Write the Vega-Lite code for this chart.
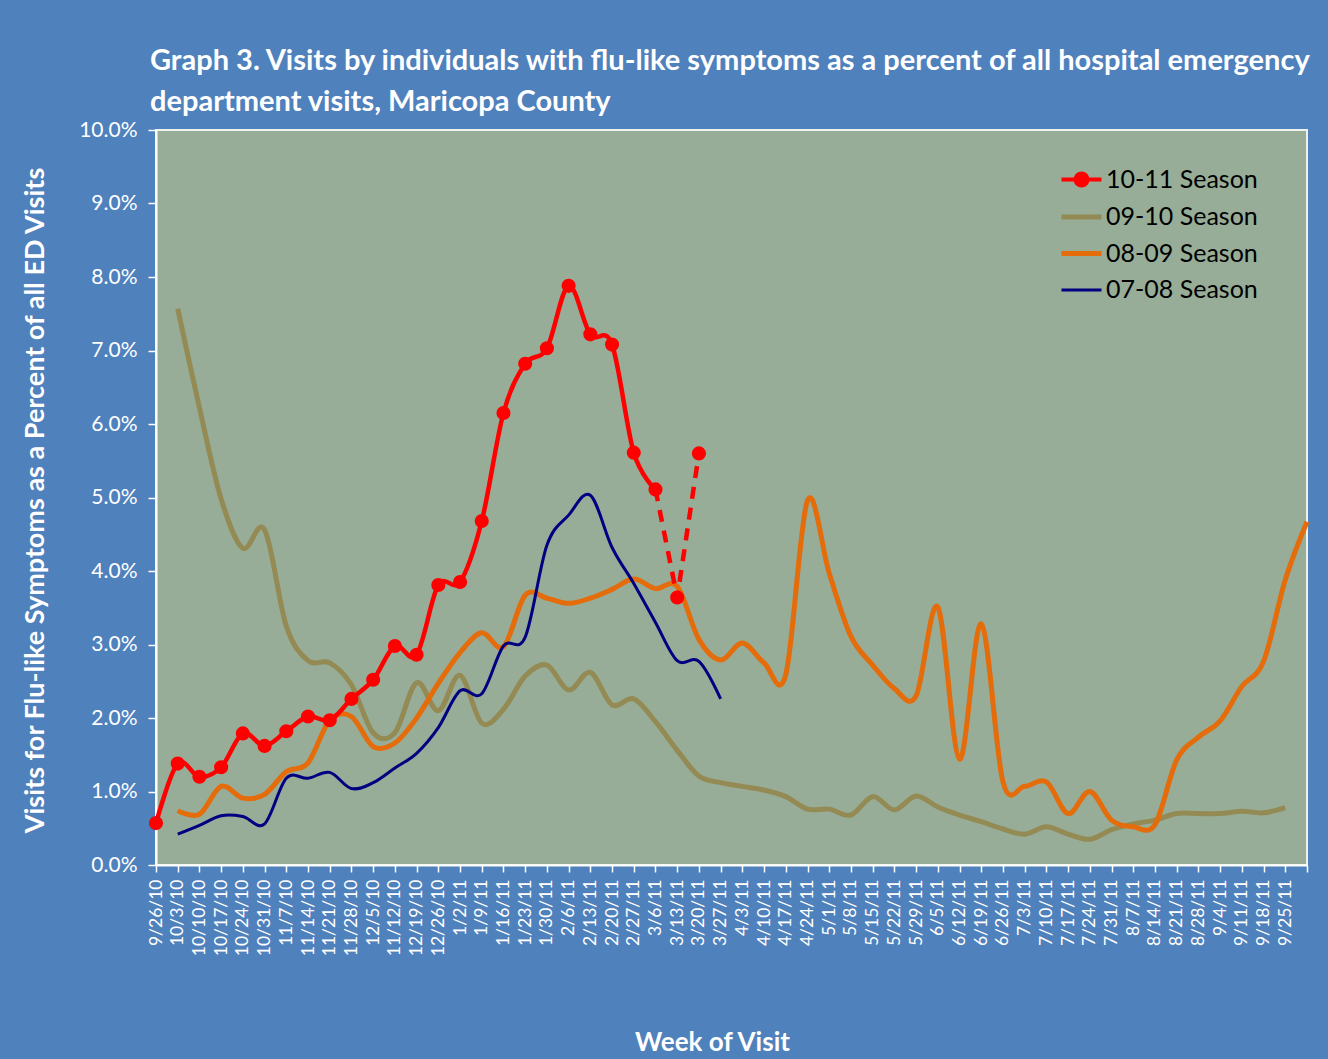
{
  "$schema": "https://vega.github.io/schema/vega-lite/v6.json",
  "width": 1151,
  "height": 735,
  "autosize": "none",
  "padding": {"left": 156, "top": 130, "right": 21, "bottom": 194},
  "background": "#4F81BD",
  "config": {
    "font": "Lato, sans-serif",
    "view": {"fill": "#97AD98", "stroke": "#EEF2EE", "strokeWidth": 2}
  },
  "title": {
    "text": ["Graph 3. Visits by individuals with flu-like symptoms as a percent of all hospital emergency", "department visits, Maricopa County"],
    "anchor": "start",
    "frame": "group",
    "dx": -6,
    "offset": 2,
    "fontSize": 29,
    "fontWeight": "bold",
    "color": "#FFFFFF",
    "lineHeight": 41
  },
  "datasets": {
    "red": [
      {"w": "9/26/10", "v": 0.57}, {"w": "10/3/10", "v": 1.38}, {"w": "10/10/10", "v": 1.20}, {"w": "10/17/10", "v": 1.33},
      {"w": "10/24/10", "v": 1.79}, {"w": "10/31/10", "v": 1.62}, {"w": "11/7/10", "v": 1.82}, {"w": "11/14/10", "v": 2.02},
      {"w": "11/21/10", "v": 1.97}, {"w": "11/28/10", "v": 2.26}, {"w": "12/5/10", "v": 2.52}, {"w": "11/12/10", "v": 2.98},
      {"w": "12/19/10", "v": 2.86}, {"w": "12/26/10", "v": 3.81}, {"w": "1/2/11", "v": 3.85}, {"w": "1/9/11", "v": 4.68},
      {"w": "1/16/11", "v": 6.15}, {"w": "1/23/11", "v": 6.82}, {"w": "1/30/11", "v": 7.03}, {"w": "2/6/11", "v": 7.88},
      {"w": "2/13/11", "v": 7.22}, {"w": "2/20/11", "v": 7.08}, {"w": "2/27/11", "v": 5.61}, {"w": "3/6/11", "v": 5.11},
      {"w": "3/13/11", "v": 3.64}, {"w": "3/20/11", "v": 5.60}
    ],
    "gold": [
      {"w": "10/3/10", "v": 7.57}, {"w": "10/10/10", "v": 6.22}, {"w": "10/17/10", "v": 4.98}, {"w": "10/24/10", "v": 4.31},
      {"w": "10/31/10", "v": 4.56}, {"w": "11/7/10", "v": 3.25}, {"w": "11/14/10", "v": 2.78}, {"w": "11/21/10", "v": 2.75},
      {"w": "11/28/10", "v": 2.45}, {"w": "12/5/10", "v": 1.80}, {"w": "11/12/10", "v": 1.80}, {"w": "12/19/10", "v": 2.48},
      {"w": "12/26/10", "v": 2.10}, {"w": "1/2/11", "v": 2.58}, {"w": "1/9/11", "v": 1.93}, {"w": "1/16/11", "v": 2.12},
      {"w": "1/23/11", "v": 2.57}, {"w": "1/30/11", "v": 2.72}, {"w": "2/6/11", "v": 2.38}, {"w": "2/13/11", "v": 2.62},
      {"w": "2/20/11", "v": 2.18}, {"w": "2/27/11", "v": 2.26}, {"w": "3/6/11", "v": 1.95}, {"w": "3/13/11", "v": 1.56},
      {"w": "3/20/11", "v": 1.21}, {"w": "3/27/11", "v": 1.12}, {"w": "4/3/11", "v": 1.07}, {"w": "4/10/11", "v": 1.02},
      {"w": "4/17/11", "v": 0.93}, {"w": "4/24/11", "v": 0.76}, {"w": "5/1/11", "v": 0.76}, {"w": "5/8/11", "v": 0.68},
      {"w": "5/15/11", "v": 0.93}, {"w": "5/22/11", "v": 0.75}, {"w": "5/29/11", "v": 0.94}, {"w": "6/5/11", "v": 0.79},
      {"w": "6/12/11", "v": 0.68}, {"w": "6/19/11", "v": 0.59}, {"w": "6/26/11", "v": 0.49}, {"w": "7/3/11", "v": 0.42},
      {"w": "7/10/11", "v": 0.52}, {"w": "7/17/11", "v": 0.42}, {"w": "7/24/11", "v": 0.35}, {"w": "7/31/11", "v": 0.48},
      {"w": "8/7/11", "v": 0.56}, {"w": "8/14/11", "v": 0.61}, {"w": "8/21/11", "v": 0.70}, {"w": "8/28/11", "v": 0.70},
      {"w": "9/4/11", "v": 0.70}, {"w": "9/11/11", "v": 0.73}, {"w": "9/18/11", "v": 0.71}, {"w": "9/25/11", "v": 0.78}
    ],
    "orange": [
      {"w": "10/3/10", "v": 0.74}, {"w": "10/10/10", "v": 0.69}, {"w": "10/17/10", "v": 1.07}, {"w": "10/24/10", "v": 0.91},
      {"w": "10/31/10", "v": 0.96}, {"w": "11/7/10", "v": 1.27}, {"w": "11/14/10", "v": 1.39}, {"w": "11/21/10", "v": 1.97},
      {"w": "11/28/10", "v": 2.02}, {"w": "12/5/10", "v": 1.61}, {"w": "11/12/10", "v": 1.66}, {"w": "12/19/10", "v": 2.00},
      {"w": "12/26/10", "v": 2.47}, {"w": "1/2/11", "v": 2.89}, {"w": "1/9/11", "v": 3.16}, {"w": "1/16/11", "v": 2.97},
      {"w": "1/23/11", "v": 3.67}, {"w": "1/30/11", "v": 3.63}, {"w": "2/6/11", "v": 3.56}, {"w": "2/13/11", "v": 3.63},
      {"w": "2/20/11", "v": 3.75}, {"w": "2/27/11", "v": 3.89}, {"w": "3/6/11", "v": 3.76}, {"w": "3/13/11", "v": 3.79},
      {"w": "3/20/11", "v": 3.07}, {"w": "3/27/11", "v": 2.79}, {"w": "4/3/11", "v": 3.02}, {"w": "4/10/11", "v": 2.75},
      {"w": "4/17/11", "v": 2.59}, {"w": "4/24/11", "v": 4.96}, {"w": "5/1/11", "v": 3.97}, {"w": "5/8/11", "v": 3.11},
      {"w": "5/15/11", "v": 2.72}, {"w": "5/22/11", "v": 2.40}, {"w": "5/29/11", "v": 2.30}, {"w": "6/5/11", "v": 3.51},
      {"w": "6/12/11", "v": 1.44}, {"w": "6/19/11", "v": 3.28}, {"w": "6/26/11", "v": 1.13}, {"w": "7/3/11", "v": 1.07},
      {"w": "7/10/11", "v": 1.13}, {"w": "7/17/11", "v": 0.70}, {"w": "7/24/11", "v": 1.00}, {"w": "7/31/11", "v": 0.61},
      {"w": "8/7/11", "v": 0.52}, {"w": "8/14/11", "v": 0.55}, {"w": "8/21/11", "v": 1.43}, {"w": "8/28/11", "v": 1.74},
      {"w": "9/4/11", "v": 1.96}, {"w": "9/11/11", "v": 2.43}, {"w": "9/18/11", "v": 2.77}, {"w": "9/25/11", "v": 3.88},
      {"w": "10/2/11", "v": 4.67}
    ],
    "navy": [
      {"w": "10/3/10", "v": 0.42}, {"w": "10/10/10", "v": 0.54}, {"w": "10/17/10", "v": 0.67}, {"w": "10/24/10", "v": 0.66},
      {"w": "10/31/10", "v": 0.56}, {"w": "11/7/10", "v": 1.18}, {"w": "11/14/10", "v": 1.18}, {"w": "11/21/10", "v": 1.26},
      {"w": "11/28/10", "v": 1.04}, {"w": "12/5/10", "v": 1.12}, {"w": "11/12/10", "v": 1.32}, {"w": "12/19/10", "v": 1.52},
      {"w": "12/26/10", "v": 1.87}, {"w": "1/2/11", "v": 2.37}, {"w": "1/9/11", "v": 2.33}, {"w": "1/16/11", "v": 2.98},
      {"w": "1/23/11", "v": 3.10}, {"w": "1/30/11", "v": 4.35}, {"w": "2/6/11", "v": 4.76}, {"w": "2/13/11", "v": 5.03},
      {"w": "2/20/11", "v": 4.32}, {"w": "2/27/11", "v": 3.83}, {"w": "3/6/11", "v": 3.30}, {"w": "3/13/11", "v": 2.78},
      {"w": "3/20/11", "v": 2.77}, {"w": "3/27/11", "v": 2.26}
    ]
  },
  "encoding": {
    "x": {
      "field": "w",
      "type": "ordinal",
      "scale": {
        "type": "point",
        "padding": 0,
        "domain": ["9/26/10","10/3/10","10/10/10","10/17/10","10/24/10","10/31/10","11/7/10","11/14/10","11/21/10","11/28/10","12/5/10","11/12/10","12/19/10","12/26/10","1/2/11","1/9/11","1/16/11","1/23/11","1/30/11","2/6/11","2/13/11","2/20/11","2/27/11","3/6/11","3/13/11","3/20/11","3/27/11","4/3/11","4/10/11","4/17/11","4/24/11","5/1/11","5/8/11","5/15/11","5/22/11","5/29/11","6/5/11","6/12/11","6/19/11","6/26/11","7/3/11","7/10/11","7/17/11","7/24/11","7/31/11","8/7/11","8/14/11","8/21/11","8/28/11","9/4/11","9/11/11","9/18/11","9/25/11","10/2/11"]
      },
      "axis": {
        "title": "Week of Visit",
        "titleFontSize": 26,
        "titleFontWeight": "bold",
        "titleColor": "#FFFFFF",
        "titleX": 556,
        "titleY": 177,
        "titleAlign": "center",
        "titleBaseline": "middle",
        "labelAngle": 270,
        "labelFontSize": 17.5,
        "labelColor": "#FFFFFF",
        "labelPadding": 7,
        "labelOverlap": false,
        "labelBound": false,
        "labelExpr": "datum.value === '10/2/11' ? '' : datum.value",
        "tickColor": "#FFFFFF",
        "tickSize": 7,
        "tickWidth": 1.5,
        "domainColor": "#FFFFFF",
        "domainWidth": 2
      }
    },
    "y": {
      "field": "v",
      "type": "quantitative",
      "scale": {"domain": [0, 10], "nice": false},
      "axis": {
        "title": "Visits for Flu-like Symptoms as a Percent of all ED Visits",
        "titleFontSize": 27,
        "titleFontWeight": "bold",
        "titleColor": "#FFFFFF",
        "titleX": -121,
        "titleY": 370,
        "titleAngle": 270,
        "titleAlign": "center",
        "titleBaseline": "middle",
        "values": [0, 1, 2, 3, 4, 5, 6, 7, 8, 9, 10],
        "labelExpr": "format(datum.value, '.1f') + '%'",
        "labelFontSize": 21,
        "labelColor": "#FFFFFF",
        "labelPadding": 11,
        "tickColor": "#FFFFFF",
        "tickSize": 8,
        "tickWidth": 1.5,
        "domainColor": "#FFFFFF",
        "domainWidth": 2,
        "grid": false
      }
    }
  },
  "layer": [
    {
      "data": {"name": "gold"},
      "mark": {"type": "line", "interpolate": "cardinal", "strokeWidth": 5},
      "encoding": {
        "color": {
          "datum": "09-10 Season",
          "type": "nominal",
          "scale": {
            "domain": ["10-11 Season", "09-10 Season", "08-09 Season", "07-08 Season"],
            "range": ["#FF0000", "#948A54", "#E46C0A", "#000080"]
          },
          "legend": {
            "orient": "none",
            "legendX": 913,
            "legendY": 37,
            "title": null,
            "padding": 0,
            "labelFontSize": 25,
            "labelColor": "#000000",
            "labelOffset": 12,
            "rowPadding": 10.5,
            "symbolType": "M-2,0L2,0",
            "symbolSize": 400,
            "symbolStrokeWidth": 4,
            "symbolOffset": 0,
            "encode": {
              "symbols": {
                "update": {
                  "shape": {"signal": "datum.value === '10-11 Season' ? 'M-2,0L2,0M0.6,0A0.6,0.6,0,1,1,-0.6,0A0.6,0.6,0,1,1,0.6,0' : 'M-2,0L2,0'"},
                  "fill": {"signal": "datum.value === '10-11 Season' ? '#FF0000' : 'transparent'"},
                  "stroke": {"signal": "scale('color', datum.value)"},
                  "strokeWidth": {"signal": "datum.value === '07-08 Season' ? 3 : (datum.value === '10-11 Season' ? 4 : 5)"},
                  "opacity": {"value": 1}
                }
              }
            }
          }
        }
      }
    },
    {
      "data": {"name": "orange"},
      "mark": {"type": "line", "interpolate": "cardinal", "strokeWidth": 5},
      "encoding": {"color": {"datum": "08-09 Season", "type": "nominal"}}
    },
    {
      "data": {"name": "navy"},
      "mark": {"type": "line", "interpolate": "cardinal", "strokeWidth": 3},
      "encoding": {"color": {"datum": "07-08 Season", "type": "nominal"}}
    },
    {
      "data": {"name": "red"},
      "transform": [{"filter": "datum.w !== '3/13/11' && datum.w !== '3/20/11'"}],
      "mark": {"type": "line", "interpolate": "cardinal", "strokeWidth": 4.5},
      "encoding": {"color": {"datum": "10-11 Season", "type": "nominal"}}
    },
    {
      "data": {"name": "red"},
      "transform": [{"filter": "indexof(['3/6/11', '3/13/11', '3/20/11'], datum.w) >= 0"}],
      "mark": {"type": "line", "interpolate": "linear", "strokeWidth": 4.5, "strokeDash": [12, 9]},
      "encoding": {"color": {"datum": "10-11 Season", "type": "nominal"}}
    },
    {
      "data": {"name": "red"},
      "mark": {"type": "point", "filled": true, "opacity": 1, "size": 200, "shape": "circle"},
      "encoding": {"color": {"datum": "10-11 Season", "type": "nominal"}}
    }
  ]
}
